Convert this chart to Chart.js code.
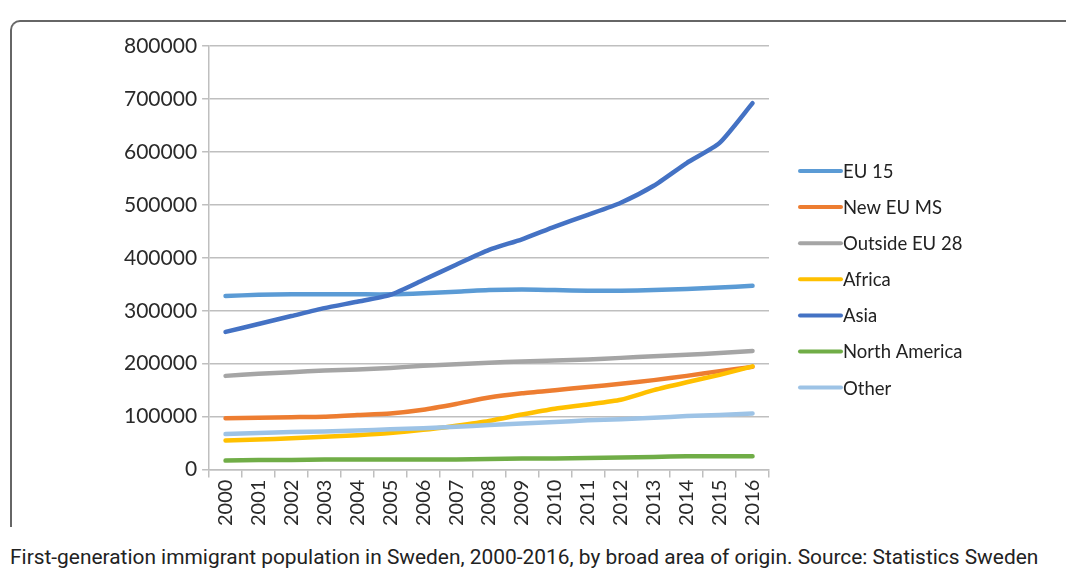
<!DOCTYPE html>
<html>
<head>
<meta charset="utf-8">
<script src="https://cdn.jsdelivr.net/npm/chart.js@4"></script>
<style>
  body { margin: 0; background: #fff; width: 1066px; height: 583px; overflow: hidden; position: relative; }
  #frame {
    position: absolute; left: 10px; top: 20px; width: 1100px; height: 505px;
    border-top: 2px solid #666; border-left: 2px solid #666; border-top-left-radius: 10px;
  }
  #wrap { position: absolute; left: 12px; top: 22px; width: 1040px; height: 520px; }
  #caption {
    position: absolute; left: 10px; top: 545px; font-family: Roboto, sans-serif;
    font-size: 20.9px; color: #222; white-space: nowrap;
  }
</style>
</head>
<body>
<div id="frame"></div>
<div id="wrap"><canvas id="lineChart"></canvas></div>
<div id="caption">First-generation immigrant population in Sweden, 2000-2016, by broad area of origin. Source: Statistics Sweden</div>
<script>
const years = ["2000", "2001", "2002", "2003", "2004", "2005", "2006", "2007", "2008",
  "2009", "2010", "2011", "2012", "2013", "2014", "2015", "2016"];

const seriesNames = ["EU 15", "New EU MS", "Outside EU 28", "Africa", "Asia", "North America", "Other"];
const seriesColors = ["#5b9bd5", "#ed7d31", "#a5a5a5", "#ffc000", "#4472c4", "#70ad47", "#9dc3e6"];

const eu15 = [328000, 330000, 331000, 331000, 331000, 331000, 333000, 336000, 339000,
  340000, 339000, 338000, 338000, 339000, 341000, 344000, 347000];
const newEuMs = [97000, 98000, 99000, 100000, 103000, 106000, 113000, 124000, 136000,
  144000, 150000, 156000, 162000, 169000, 177000, 186000, 194000];
const outsideEu28 = [177000, 181000, 184000, 187000, 189000, 192000, 196000, 199000, 202000,
  204000, 206000, 208000, 211000, 214000, 217000, 220000, 224000];
const africa = [55000, 57000, 59000, 62000, 65000, 69000, 75000, 83000, 92000,
  104000, 115000, 123000, 132000, 150000, 165000, 179000, 195000];
const asia = [260000, 275000, 290000, 305000, 317000, 330000, 358000, 387000, 415000,
  435000, 459000, 481000, 504000, 536000, 579000, 617000, 692000];
const northAmerica = [17000, 18000, 18000, 19000, 19000, 19000, 19000, 19000, 20000,
  21000, 21000, 22000, 23000, 24000, 25000, 25000, 25000];
const other = [67000, 69000, 71000, 72000, 74000, 76000, 78000, 81000, 84000,
  87000, 90000, 93000, 95000, 98000, 101000, 103000, 106000];

const seriesValues = [eu15, newEuMs, outsideEu28, africa, asia, northAmerica, other];

const yTicks = [0, 100000, 200000, 300000, 400000, 500000, 600000, 700000, 800000];

// legend drawn by hand so the line sits right against the text, like the Excel original
const sideLegend = {
  id: "sideLegend",
  afterDraw(chart) {
    const { ctx, chartArea } = chart;
    const x0 = chartArea.right + 31;
    const y0 = chartArea.top + 125;
    ctx.save();
    ctx.font = "18.5px Lato";
    ctx.textBaseline = "middle";
    ctx.fillStyle = "#222";
    chart.data.datasets.forEach((ds, i) => {
      const y = y0 + i * 36.1;
      ctx.strokeStyle = ds.borderColor;
      ctx.lineWidth = 4;
      ctx.lineCap = "round";
      ctx.beginPath();
      ctx.moveTo(x0, y);
      ctx.lineTo(x0 + 41, y);
      ctx.stroke();
      ctx.fillText(ds.label, x0 + 43, y + 1);
    });
    ctx.restore();
  }
};

function renderChart() {
  const ctx = document.getElementById("lineChart").getContext("2d");

  const datasets = seriesNames.map((name, i) => ({
    label: name,
    data: seriesValues[i],
    borderColor: seriesColors[i],
    backgroundColor: seriesColors[i],
    borderWidth: 4.5,
    pointRadius: 0,
    tension: 0.2,
    borderCapStyle: "round",
    order: seriesNames.length - i
  }));

  new Chart(ctx, {
    type: "line",
    data: { labels: years, datasets: datasets },
    options: {
      responsive: true,
      maintainAspectRatio: false,
      animation: false,
      layout: { padding: { left: 107, top: 24, right: 283, bottom: 14 } },
      plugins: {
        tooltip: { enabled: false },
        legend: { display: false }
      },
      scales: {
        x: {
          offset: true,
          grid: { offset: true, drawOnChartArea: false, color: "#bfbfbf", lineWidth: 1.5, tickLength: 8 },
          border: { color: "#bfbfbf", width: 1.5 },
          ticks: {
            minRotation: 90, maxRotation: 90, autoSkip: false,
            color: "#2a2a2a", padding: 2,
            font: { family: "Lato", size: 20 }
          }
        },
        y: {
          min: 0,
          max: 800000,
          afterBuildTicks: axis => { axis.ticks = yTicks.map(v => ({ value: v })); },
          grid: { color: "#bfbfbf", lineWidth: 1.5, tickLength: 7 },
          border: { color: "#bfbfbf", width: 1.5 },
          ticks: {
            color: "#2a2a2a", padding: 5,
            callback: v => String(v),
            font: { family: "Lato", size: 21 }
          }
        }
      }
    },
    plugins: [sideLegend]
  });
}

window.onload = renderChart;
</script>
</body>
</html>
